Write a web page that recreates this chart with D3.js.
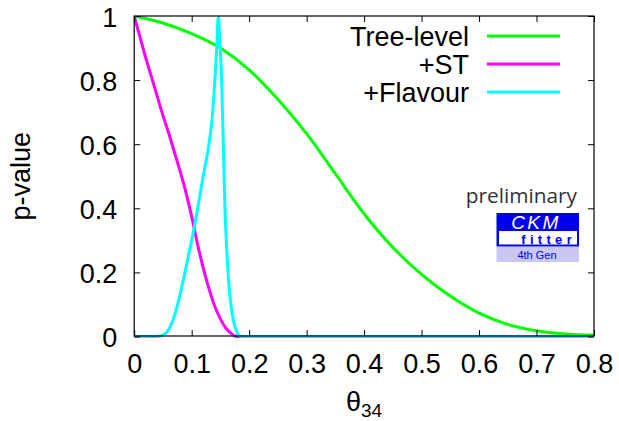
<!DOCTYPE html>
<html>
<head>
<meta charset="utf-8">
<script src="https://cdn.jsdelivr.net/npm/d3@7"></script>
<style>
  html, body { margin: 0; padding: 0; background: #fff; }
  svg { display: block; }
  text { font-family: "Liberation Sans", Arial, Helvetica, sans-serif; }
</style>
</head>
<body>
<svg id="chart" width="619" height="421"></svg>
<script>
// p-value scans versus theta_34
const thetaTree = [0, 0.05, 0.1, 0.15, 0.2, 0.25, 0.3, 0.35, 0.4, 0.45, 0.5, 0.55, 0.6, 0.65, 0.7, 0.75, 0.8];
const pTree     = [1, 0.978, 0.945, 0.9, 0.832, 0.74, 0.633, 0.508, 0.383, 0.278, 0.194, 0.126, 0.073, 0.038, 0.018, 0.008, 0.004];

const thetaST = [0, 0.01, 0.02, 0.03, 0.04, 0.05, 0.06, 0.07, 0.08, 0.09, 0.1, 0.11, 0.12, 0.13, 0.14, 0.15, 0.16, 0.17, 0.178, 0.8];
const pST     = [1, 0.935, 0.87, 0.81, 0.75, 0.69, 0.635, 0.575, 0.515, 0.45, 0.375, 0.29, 0.215, 0.15, 0.095, 0.055, 0.025, 0.008, 0, 0];

const thetaFlav = [0, 0.04, 0.05, 0.06, 0.07, 0.08, 0.09, 0.1, 0.11, 0.12, 0.13, 0.135, 0.14, 0.1435, 0.1465, 0.149, 0.152, 0.155, 0.158, 0.161, 0.164, 0.167, 0.1696, 0.174, 0.178, 0.182, 0.186, 0.8];
const pFlav     = [0, 0, 0.004, 0.022, 0.065, 0.133, 0.215, 0.3, 0.395, 0.5, 0.6, 0.67, 0.79, 0.9, 1, 0.92, 0.81, 0.6, 0.394, 0.27, 0.18, 0.12, 0.081, 0.04, 0.017, 0.004, 0, 0];

const seriesNames  = ["Tree-level", "+ST", "+Flavour"];
const seriesColors = ["#00ff00", "#ff00ff", "#00ffff"];

const xTicks = [0, 0.1, 0.2, 0.3, 0.4, 0.5, 0.6, 0.7, 0.8];
const yTicks = [0, 0.2, 0.4, 0.6, 0.8, 1];

const svg = d3.select("#chart");
const plotLeft = 134.2, plotRight = 594, plotTop = 16, plotBottom = 336.5;

const x = d3.scaleLinear().domain([0, 0.8]).range([plotLeft, plotRight]);
const y = d3.scaleLinear().domain([0, 1]).range([plotBottom, plotTop]);

const fmt = d => d === 0 ? "0" : (d === 1 ? "1" : d3.format(".1f")(d));

// clip for the curves
svg.append("defs").append("clipPath").attr("id", "plot-clip")
  .append("rect").attr("x", plotLeft).attr("y", plotTop)
  .attr("width", plotRight - plotLeft).attr("height", plotBottom - plotTop + 4);

// curves
const line = d3.line().x(d => x(d[0])).y(d => y(d[1])).curve(d3.curveMonotoneX);
const series = [
  d3.zip(thetaTree, pTree),
  d3.zip(thetaST, pST),
  d3.zip(thetaFlav, pFlav)
];
const gCurves = svg.append("g").attr("clip-path", "url(#plot-clip)");
series.forEach((pts, i) => {
  gCurves.append("path")
    .attr("d", line(pts))
    .attr("fill", "none")
    .attr("stroke", seriesColors[i])
    .attr("stroke-width", 3)
    .attr("stroke-linejoin", "round");
});

// axes (inward ticks on all four sides)
const styleAxis = g => {
  g.select(".domain").remove();
  g.selectAll(".tick line").attr("stroke", "#000").attr("stroke-width", 1);
  g.selectAll(".tick text").attr("fill", "#000").style("font-size", "27px")
    .style("font-family", "'Liberation Sans', Arial, sans-serif");
};

svg.append("g").attr("transform", `translate(0,${plotBottom - 0.5})`)
  .call(d3.axisBottom(x).tickValues(xTicks).tickFormat(fmt).tickSize(-6).tickPadding(18))
  .call(styleAxis);

svg.append("g").attr("transform", `translate(0,${plotTop})`)
  .call(d3.axisTop(x).tickValues(xTicks).tickFormat("").tickSize(-6))
  .call(styleAxis);

svg.append("g").attr("transform", `translate(${plotLeft},0)`)
  .call(d3.axisLeft(y).tickValues(yTicks).tickFormat(fmt).tickSize(-6).tickPadding(17))
  .call(styleAxis)
  .call(g => g.selectAll(".tick text").attr("dy", "0.38em"));

svg.append("g").attr("transform", `translate(${plotRight},0)`)
  .call(d3.axisRight(y).tickValues(yTicks).tickFormat("").tickSize(-6))
  .call(styleAxis);

// frame
svg.append("rect")
  .attr("x", plotLeft).attr("y", plotTop)
  .attr("width", plotRight - plotLeft).attr("height", plotBottom - 0.5 - plotTop)
  .attr("fill", "none").attr("stroke", "#000").attr("stroke-width", 1.2);

// axis titles
svg.append("text")
  .attr("transform", `translate(30,${(plotTop + plotBottom) / 2}) rotate(-90)`)
  .attr("text-anchor", "middle")
  .style("font-size", "27px")
  .text("p-value");

const xt = svg.append("text")
  .attr("x", (plotLeft + plotRight) / 2).attr("y", 411)
  .attr("text-anchor", "middle")
  .style("font-size", "27px");
xt.append("tspan").text("θ");
xt.append("tspan").attr("dy", 6).style("font-size", "19px").text("34");

// legend
const legend = svg.append("g");
const legendY = [36, 64, 92];
seriesNames.forEach((name, i) => {
  legend.append("text")
    .attr("x", 469).attr("y", legendY[i] + 10)
    .attr("text-anchor", "end")
    .style("font-size", "27px")
    .text(name);
  legend.append("line")
    .attr("x1", 487).attr("x2", 560)
    .attr("y1", legendY[i]).attr("y2", legendY[i])
    .attr("stroke", seriesColors[i]).attr("stroke-width", 3);
});

// CKMfitter badge
const logo = svg.append("g");
logo.append("text")
  .attr("x", 577).attr("y", 203)
  .attr("text-anchor", "end")
  .attr("fill", "#333")
  .style("font-family", "'Open Sans', 'DejaVu Sans', sans-serif")
  .style("font-size", "20.8px")
  .text("preliminary");
logo.append("rect").attr("x", 496.5).attr("y", 213).attr("width", 82.5).attr("height", 33.5).attr("fill", "#0000f0");
logo.append("rect").attr("x", 499).attr("y", 231).attr("width", 78).attr("height", 13.5).attr("fill", "#fff");
logo.append("text")
  .attr("x", 536).attr("y", 229)
  .attr("text-anchor", "middle")
  .attr("fill", "#fff")
  .style("font-style", "italic")
  .style("font-size", "19px")
  .style("letter-spacing", "2.5px")
  .text("CKM");
logo.append("text")
  .attr("x", 576).attr("y", 243.5)
  .attr("text-anchor", "end")
  .attr("fill", "#0000f0")
  .style("font-weight", "bold")
  .style("font-size", "13px")
  .style("letter-spacing", "4.3px")
  .text("fitter");
logo.append("rect").attr("x", 496.5).attr("y", 247).attr("width", 82.5).attr("height", 15).attr("fill", "#c8c8f0");
logo.append("text")
  .attr("x", 537).attr("y", 258.5)
  .attr("text-anchor", "middle")
  .attr("fill", "#0000f0")
  .style("font-size", "11px")
  .text("4th Gen");
</script>
</body>
</html>
